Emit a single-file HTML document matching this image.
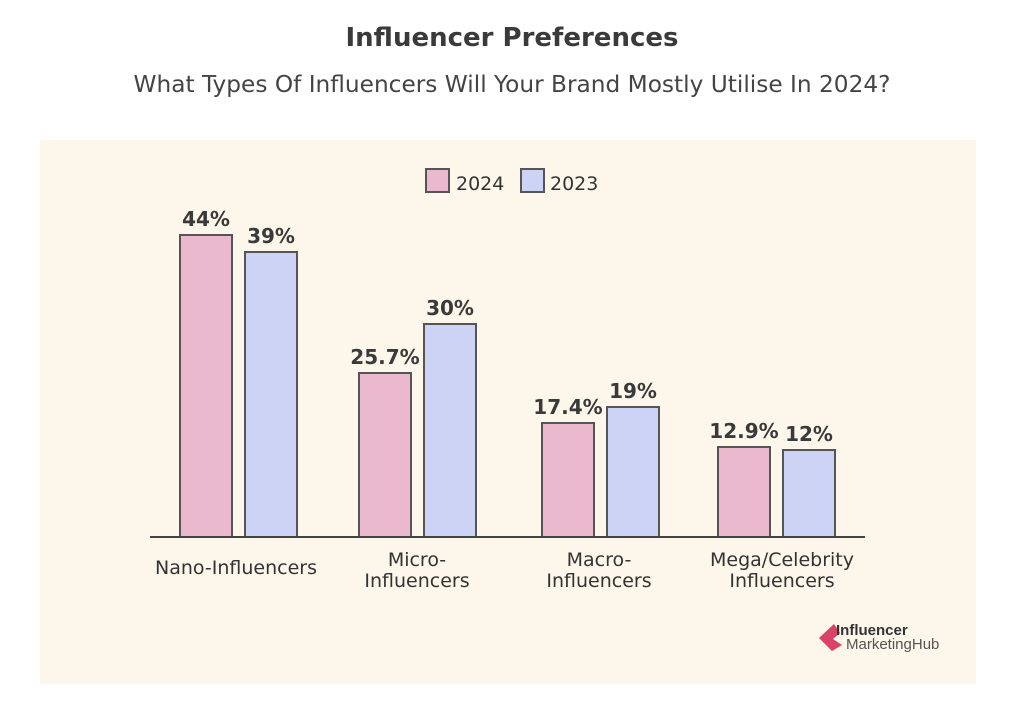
<!DOCTYPE html>
<html><head><meta charset="utf-8"><style>
body{margin:0;background:#fff;width:1024px;height:706px;overflow:hidden;font-family:"Liberation Sans","DejaVu Sans",sans-serif}
</style></head><body>
<svg width="1024" height="706" xmlns="http://www.w3.org/2000/svg" font-family="'DejaVu Sans','Liberation Sans',sans-serif">
<rect width="1024" height="706" fill="#fff"/>
<text x="512" y="46" text-anchor="middle" font-size="26" font-weight="bold" fill="#3a3a3a">Influencer Preferences</text>
<text x="512" y="92" text-anchor="middle" font-size="23" fill="#444" textLength="757" lengthAdjust="spacingAndGlyphs">What Types Of Influencers Will Your Brand Mostly Utilise In 2024?</text>
<rect x="40" y="140" width="936" height="544" fill="#fdf6ea"/>
<g stroke="#555" stroke-width="2">
<rect x="426" y="169" width="23" height="23" fill="#eab9cd"/>
<rect x="521" y="169" width="23" height="23" fill="#ccd3f4"/>
</g>
<g font-size="19" fill="#333"><text x="456" y="190">2024</text><text x="550" y="190">2023</text></g>
<g stroke="#555" stroke-width="2">
<rect x="180" y="235" width="52" height="302" fill="#eab9cd"/>
<rect x="245" y="252" width="52" height="285" fill="#ccd3f4"/>
<rect x="359" y="373" width="52" height="164" fill="#eab9cd"/>
<rect x="424" y="324" width="52" height="213" fill="#ccd3f4"/>
<rect x="542" y="423" width="52" height="114" fill="#eab9cd"/>
<rect x="607" y="407" width="52" height="130" fill="#ccd3f4"/>
<rect x="718" y="447" width="52" height="90" fill="#eab9cd"/>
<rect x="783" y="450" width="52" height="87" fill="#ccd3f4"/>
</g>
<line x1="150" y1="537" x2="865" y2="537" stroke="#444" stroke-width="2"/>
<g font-size="20" font-weight="bold" fill="#3a3a3a" text-anchor="middle">
<text x="206" y="226">44%</text><text x="271" y="243">39%</text>
<text x="385" y="364">25.7%</text><text x="450" y="315">30%</text>
<text x="568" y="414">17.4%</text><text x="633" y="398">19%</text>
<text x="744" y="438">12.9%</text><text x="809" y="441">12%</text>
</g>
<g font-size="19" fill="#333" text-anchor="middle">
<text x="236" y="574">Nano-Influencers</text>
<text x="417" y="566">Micro-</text><text x="417" y="587">Influencers</text>
<text x="599" y="566">Macro-</text><text x="599" y="587">Influencers</text>
<text x="782" y="566">Mega/Celebrity</text><text x="782" y="587">Influencers</text>
</g>
<polygon points="819,638 834,624 840,633 833,639 842,645 832,651" fill="#d9436a"/>
<text x="836" y="635" font-size="15" font-weight="bold" fill="#333" font-family="Liberation Sans,sans-serif">Influencer</text>
<text x="846" y="649" font-size="15" fill="#555" font-family="Liberation Sans,sans-serif">MarketingHub</text>
</svg>
</body></html>
